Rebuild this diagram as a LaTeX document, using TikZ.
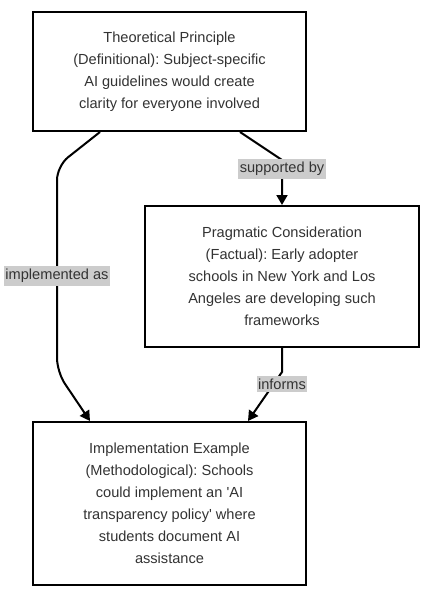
\documentclass[tikz,border=0pt]{standalone}
\usepackage{fontspec}
\setmainfont{Liberation Sans}
\usetikzlibrary{arrows.meta}
\definecolor{txt}{HTML}{333333}
\definecolor{lblbg}{HTML}{CCCCCC}
\frenchspacing
\begin{document}
\begin{tikzpicture}[x=1pt,y=-1pt,
  box/.style={draw=black,line width=2pt,fill=white,align=center,text=txt,
    font=\fontsize{14.6}{22}\selectfont,inner sep=0pt},
  edge/.style={draw=black,line width=2pt,-{Triangle[length=10pt,width=11pt]}},
  lbl/.style={fill=lblbg,text=txt,font=\fontsize{14.6}{16}\selectfont,inner xsep=1.5pt,inner ysep=3pt}]
\useasboundingbox (0,0) rectangle (431,599);
\node[box,minimum width=273pt,minimum height=119pt] (A) at (169.5,71.5)
  {Theoretical Principle\\(Definitional): Subject-specific\\AI guidelines would create\\clarity for everyone involved};
\node[box,minimum width=274pt,minimum height=141pt] (B) at (282,276.5)
  {Pragmatic Consideration\\(Factual): Early adopter\\schools in New York and Los\\Angeles are developing such\\frameworks};
\node[box,minimum width=273pt,minimum height=163pt] (C) at (169.5,503.5)
  {Implementation Example\\(Methodological): Schools\\could implement an \textquotesingle AI\\transparency policy\textquotesingle{} where\\students document AI\\assistance};
\coordinate (a1) at (57,166);
\coordinate (a2) at (57,372);
\coordinate (b1) at (282,160);
\coordinate (c1) at (282,372);
\draw[edge,rounded corners=14pt] ([xshift=-69.5pt]A.south) -- (a1) -- (a2) -- ([xshift=-79.5pt]C.north);
\node[lbl] (L1) at (57,276) {implemented as};
\draw[edge] ([xshift=70.5pt]A.south) -- (b1) -- (B.north);
\node[lbl] (L2) at (282,169) {supported by};
\draw[edge] (B.south) -- (c1) -- ([xshift=78.5pt]C.north);
\node[lbl] (L3) at (282,384) {informs};
\end{tikzpicture}
\end{document}
